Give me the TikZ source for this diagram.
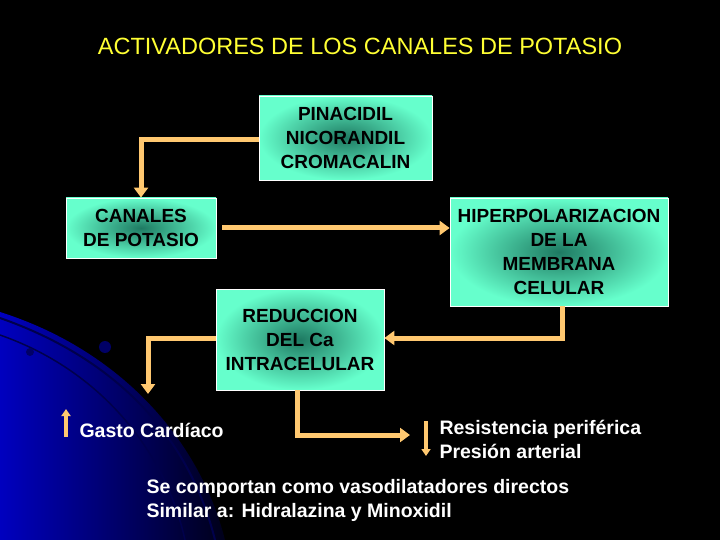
\documentclass[tikz,border=0pt]{standalone}
\usepackage{fontspec}
\setmainfont{Liberation Sans}
\usetikzlibrary{arrows.meta}
\definecolor{aq}{HTML}{66FFCC}
\definecolor{aqd}{HTML}{1E7A62}
\definecolor{arr}{HTML}{FFC870}
\definecolor{ttl}{HTML}{FFFF33}
\begin{document}
\begin{tikzpicture}[x=1pt,y=-1pt,
  box/.style={draw=white,line width=0.8pt,inner color=aqd,outer color=aq,align=center,font=\bfseries\fontsize{19}{24}\selectfont,text=black,inner sep=0pt},
  ar/.style={draw=arr,line width=5pt,-{Triangle[length=10pt,width=14pt]}},
  sar/.style={draw=arr,line width=4pt,-{Triangle[length=7pt,width=9pt]}},
  lbl/.style={text=white,font=\bfseries\fontsize{19.5}{24}\selectfont,anchor=west,align=left}]
\fill[black] (0,0) rectangle (720,540);
\useasboundingbox (0,0) rectangle (720,540);
\begin{scope}
\clip (0,0) rectangle (720,540);
\fill[left color=blue!75!black,right color=blue!10!black] (0,312) .. controls (120,350) and (200,440) .. (225,540) -- (0,540) -- cycle;
\draw[blue!30!black,line width=2pt] (0,318) .. controls (120,360) and (190,440) .. (215,540);
\draw[blue!30!black,line width=1.5pt] (0,335) .. controls (100,370) and (165,450) .. (185,540);
\fill[blue!40!black] (30,352) circle (4);
\fill[blue!40!black] (105,347) circle (6);
\end{scope}
\node[text=ttl,font=\fontsize{23.5}{28}\selectfont] (t) at (360,46) {ACTIVADORES DE LOS CANALES DE POTASIO};
\node[box,minimum width=173,minimum height=84] (p) at (345.5,138) {PINACIDIL\\NICORANDIL\\CROMACALIN};
\node[box,minimum width=150,minimum height=60] (c) at (141,228) {CANALES\\DE POTASIO};
\node[box,minimum width=218,minimum height=108] (h) at (559,252) {HIPERPOLARIZACION\\DE LA\\MEMBRANA\\CELULAR};
\node[box,minimum width=168,minimum height=101] (r) at (300,339.5) {REDUCCION\\DEL Ca\\INTRACELULAR};
\draw[ar] (p.west |- 0,140) -| (c.north);
\draw[ar] (222,228) -- (h.west |- 0,228);
\draw[ar] (562,306) |- (r.east |- 0,338);
\coordinate (g) at (148,394);
\draw[ar] (r.west |- 0,338) -| (g);
\coordinate (q) at (410,435);
\draw[ar] (297,390) |- (q);
\node[lbl] (gc) at (76,430) {Gasto Cardíaco};
\coordinate (ga) at (66,437); \coordinate (gb) at (66,409);
\draw[sar] (ga) -- (gb);
\node[lbl,anchor=north west] (rp) at (436,417) {Resistencia periférica\\Presión arterial};
\coordinate (ra) at (426,421); \coordinate (rb) at (426,456);
\draw[sar] (ra) -- (rb);
\node[lbl,anchor=north west] (s) at (143,476) {Se comportan como vasodilatadores directos\\Similar a: Hidralazina y Minoxidil};
\end{tikzpicture}
\end{document}
